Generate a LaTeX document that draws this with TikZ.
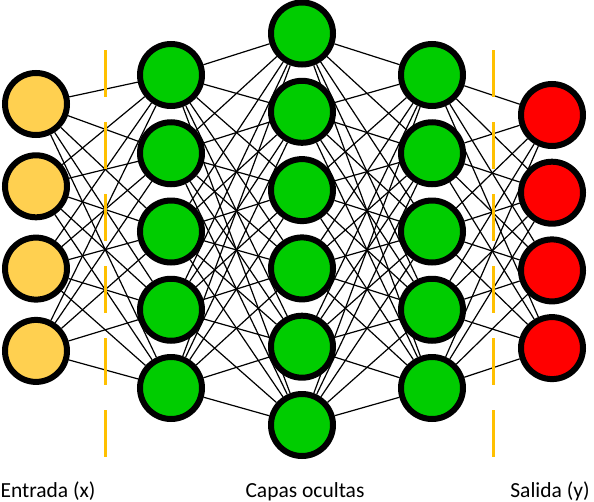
\documentclass[tikz,border=0pt]{standalone}
\usepackage{fontspec}
\setmainfont{Carlito}
\usetikzlibrary{backgrounds}
\definecolor{inputcol}{RGB}{255,208,80}
\definecolor{hiddencol}{RGB}{0,204,0}
\definecolor{outputcol}{RGB}{255,0,0}
\definecolor{sepcol}{RGB}{255,192,0}
\begin{document}
\begin{tikzpicture}[x=1pt,y=-1pt,
    neuron/.style={circle,draw=black,line width=6pt,minimum size=62pt,inner sep=0pt},
    link/.style={black,line width=1.2pt},
    sep/.style={sepcol,line width=3pt,dash pattern=on 47pt off 25pt},
    lbl/.style={anchor=base,font=\fontsize{21.5}{25}\selectfont}]
\useasboundingbox (0,0) rectangle (594,501);
% layers
\foreach \i in {1,...,4}
    \node[neuron,fill=inputcol] (in\i) at (36,{104+82.3*(\i-1)}) {};
\foreach \i in {1,...,5}
    \node[neuron,fill=hiddencol] (ha\i) at (171,{75+78.25*(\i-1)}) {};
\foreach \i in {1,...,6}
    \node[neuron,fill=hiddencol] (hb\i) at (302,{33.5+78.3*(\i-1)}) {};
\foreach \i in {1,...,5}
    \node[neuron,fill=hiddencol] (hc\i) at (432,{75+78.25*(\i-1)}) {};
\foreach \i in {1,...,4}
    \node[neuron,fill=outputcol] (out\i) at (552,{115+77.7*(\i-1)}) {};
% links
\begin{scope}[on background layer]
\foreach \a in {1,...,4}
    \foreach \b in {1,...,5}
        \draw[link] (in\a) -- (ha\b);
\foreach \a in {1,...,5}
    \foreach \b in {1,...,6}
        \draw[link] (ha\a) -- (hb\b);
\foreach \a in {1,...,6}
    \foreach \b in {1,...,5}
        \draw[link] (hb\a) -- (hc\b);
\foreach \a in {1,...,5}
    \foreach \b in {1,...,4}
        \draw[link] (hc\a) -- (out\b);
\end{scope}
% separators
\coordinate (sepLtop) at (105.5,50);
\coordinate (sepLbot) at (105.5,457);
\coordinate (sepRtop) at (493.5,50);
\coordinate (sepRbot) at (493.5,457);
\draw[sep] (sepLtop) -- (sepLbot);
\draw[sep] (sepRtop) -- (sepRbot);
% labels
\node[lbl] (lblin) at (48,497) {Entrada (x)};
\node[lbl] (lblhid) at (305,497) {Capas ocultas};
\node[lbl] (lblout) at (550,497) {Salida (y)};
\end{tikzpicture}
\end{document}
